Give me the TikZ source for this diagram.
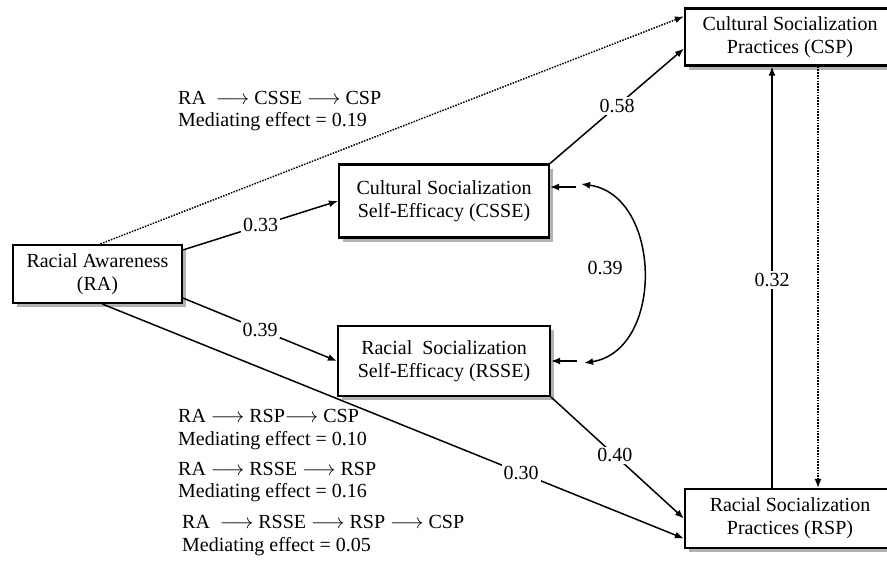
\documentclass[tikz,border=0pt]{standalone}
\usepackage{fontspec}
\setmainfont{Liberation Serif}
\usetikzlibrary{arrows.meta,calc,shadows}
\begin{document}
\begin{tikzpicture}[x=1pt,y=-1pt,
  fnt/.style={font=\fontsize{20}{23}\selectfont},
  box/.style={fnt, draw, line width=2.2pt, fill=white, align=center, inner sep=0pt,
    drop shadow={shadow xshift=4pt, shadow yshift=-4pt, fill=black!30, opacity=1}},
  lab/.style={fnt, fill=white, inner sep=2pt},
  txt/.style={fnt, align=left, inner sep=0pt, anchor=west, font=\fontsize{20}{22.5}\selectfont},
  tip/.style={-{Latex[length=9pt,width=7pt]}},
  arr/.style={tip, line width=1.5pt},
  dotarr/.style={tip, line width=1.5pt, dash pattern=on 1.5pt off 1.3pt},
  dblarr/.style={{Latex[length=9pt,width=7pt]}-{Latex[length=9pt,width=7pt]}, line width=1.5pt}
]
\useasboundingbox (0,0) rectangle (887,562);
\fill[white] (0,0) rectangle (887,562);

% boxes
\node[box, minimum width=169, minimum height=58] (RA) at (97.5,274) {Racial Awareness\\(RA)};
\node[box, minimum width=210, minimum height=73] (CSSE) at (444,201) {Cultural Socialization\\Self-Efficacy (CSSE)};
\node[box, minimum width=212, minimum height=70] (RSSE) at (444,361) {Racial\ \ Socialization\\Self-Efficacy (RSSE)};
\node[box, minimum width=210, minimum height=57] (CSP) at (790,37) {Cultural Socialization\\Practices (CSP)};
\node[box, minimum width=210, minimum height=59] (RSP) at (790,518.5) {Racial Socialization\\Practices (RSP)};

% paths
\draw[dotarr] ($(RA.north)+(3,0)$) -- ($(CSP.north west)+(0,9)$);
\draw[arr] ($(RA.north east)+(0,6)$) -- node[lab]{0.33} (CSSE.west);
\draw[arr] ($(RA.south east)+(0,-6)$) -- node[lab]{0.39} (RSSE.west);
\draw[arr] ($(RA.south)+(5,0)$) -- node[lab,pos=0.72]{0.30} ($(RSP.west)+(0,20)$);
\draw[arr] (RSSE.south east) -- node[lab,pos=0.48]{0.40} (RSP.west);
\draw[arr] (CSSE.north east) -- node[lab]{0.58} ($(CSP.south west)+(0,-18)$);
\draw[arr] ($(RSP.north)+(-18,0)$) -- node[lab,pos=0.494]{0.32} ($(CSP.south)+(-18,0)$);
\draw[dotarr] ($(CSP.south)+(28,0)$) -- ($(RSP.north)+(28,0)$);

% residual correlation
\coordinate (e1) at ($(CSSE.east)+(26,-14)$);
\coordinate (e2) at ($(RSSE.east)+(26,0)$);
\draw[arr] (e1) -- (e1 -| CSSE.east);
\draw[arr] (e2) -- (e2 -| RSSE.east);
\coordinate (c1) at ($(e1)+(5,-3)$);
\coordinate (c2) at ($(e2)+(7,2)$);
\draw[dblarr] (c1) .. controls (662,195) and (665,350) .. (c2);
\node[lab] (r39) at (605,268) {0.39};

% annotations
\node[txt] (m1) at (178,111) {RA\ \ $\longrightarrow$ CSSE $\longrightarrow$ CSP\\Mediating effect = 0.19};
\node[txt] (m2) at (178,429.5) {RA $\longrightarrow$ RSP$\longrightarrow$ CSP\\Mediating effect = 0.10};
\node[txt] (m3) at (178,482) {RA $\longrightarrow$ RSSE $\longrightarrow$ RSP\\Mediating effect = 0.16};
\node[txt] (m4) at (182,535.5) {RA\ \ $\longrightarrow$ RSSE $\longrightarrow$ RSP $\longrightarrow$ CSP\\Mediating effect = 0.05};
\end{tikzpicture}
\end{document}
